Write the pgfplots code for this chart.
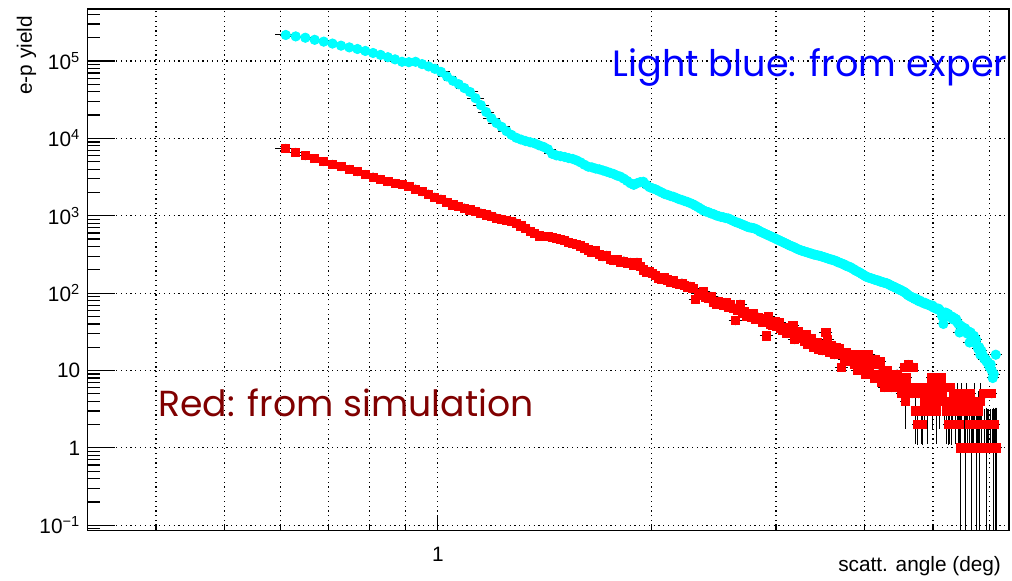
\documentclass[border=0pt]{standalone}
\usepackage{fontspec}
\setmainfont{Liberation Sans}
\newfontfamily\annfont{Poppins}
\usepackage{pgfplots}
\pgfplotsset{compat=1.18}
\usepackage{pgfplotstable}
\definecolor{rootcyan}{RGB}{0,255,255}
\definecolor{rootred}{RGB}{255,0,0}
\definecolor{darkred}{RGB}{128,0,0}
\definecolor{rootblue}{RGB}{0,0,255}

\pgfplotstableread{
x y
0.61 217000
0.63 208000
0.65 200000
0.67 188000
0.69 178000
0.71 168000
0.73 158000
0.75 150000
0.77 143000
0.79 135000
0.81 127000
0.83 120000
0.85 112000
0.87 105000
0.89 97700
0.91 96600
0.93 97700
0.95 91200
0.97 85100
0.99 79400
1.01 72400
1.03 63100
1.05 55600
1.07 50100
1.09 44700
1.11 39800
1.13 33100
1.15 26900
1.17 21900
1.19 18200
1.21 15800
1.23 14100
1.25 12400
1.27 11100
1.29 10200
1.31 9660
1.33 9230
1.35 8910
1.37 8610
1.39 8130
1.41 7760
1.43 7240
1.45 6310
1.47 6030
1.49 5890
1.51 5750
1.53 5560
1.55 5430
1.57 5190
1.59 4900
1.61 4570
1.63 4310
1.65 4220
1.67 4070
1.69 3980
1.71 3850
1.73 3720
1.75 3590
1.77 3470
1.79 3310
1.81 3200
1.83 3020
1.85 2820
1.87 2630
1.89 2510
1.91 2630
1.93 2720
1.95 2750
1.97 2510
1.99 2340
2.01 2260
2.03 2190
2.05 2090
2.07 2000
2.09 1910
2.11 1860
2.13 1800
2.15 1760
2.17 1700
2.19 1640
2.21 1600
2.23 1550
2.25 1510
2.27 1460
2.29 1410
2.31 1350
2.33 1290
2.35 1230
2.37 1170
2.39 1135
2.41 1110
2.43 1070
2.45 1050
2.47 1010
2.49 989
2.51 966
2.53 955
2.55 933
2.57 923
2.59 891
2.61 861
2.63 832
2.65 813
2.67 794
2.69 767
2.71 750
2.73 724
2.75 708
2.77 700
2.79 692
2.81 676
2.83 653
2.85 624
2.87 610
2.89 589
2.91 575
2.93 556
2.95 543
2.97 525
2.99 513
3.01 495
3.03 484
3.05 468
3.07 457
3.09 442
3.11 432
3.13 417
3.15 407
3.17 398
3.19 389
3.21 376
3.23 367
3.25 359
3.27 351
3.29 347
3.31 339
3.33 335
3.35 327
3.37 324
3.39 316
3.41 313
3.43 309
3.45 305
3.47 302
3.49 295
3.51 292
3.53 285
3.55 282
3.57 275
3.59 272
3.61 269
3.63 263
3.65 260
3.67 251
3.69 248
3.71 243
3.73 237
3.75 234
3.77 226
3.79 221
3.81 219
3.83 214
3.85 207
3.87 202
3.89 195
3.91 191
3.93 186
3.95 182
3.97 176
3.99 172
4.01 166
4.03 162
4.05 160
4.07 157
4.09 155
4.11 153
4.13 150
4.15 148
4.17 146
4.19 145
4.21 141
4.23 140
4.25 138
4.27 136
4.29 135
4.31 133
4.33 130
4.35 127
4.37 124
4.39 122
4.41 120
4.43 117
4.45 115
4.47 112
4.49 111
4.51 108
4.53 106
4.55 104
4.57 101
4.59 98
4.61 94
4.63 92
4.65 90
4.67 88
4.69 87
4.71 84
4.73 85
4.75 82
4.77 79
4.79 80
4.81 77
4.83 76
4.85 74
4.87 75
4.89 72
4.91 72
4.93 71
4.95 69
4.97 68
4.99 69
5.01 65
5.03 65
5.05 63
5.07 62
5.09 63
5.11 60
5.13 58
5.15 50
5.17 40
5.19 55
5.21 56
5.23 52
5.25 54
5.27 51
5.29 49
5.31 50
5.33 46
5.35 48
5.37 45
5.39 46
5.41 42
5.43 40
5.45 31
5.47 38
5.49 35
5.51 36
5.53 33
5.55 35
5.57 32
5.59 30
5.61 32
5.63 23
5.65 31
5.67 28
5.69 26
5.71 28
5.73 24
5.75 25
5.77 21
5.79 19
5.81 20
5.83 16
5.85 18
5.87 16
5.89 15
5.91 14
5.93 14
5.95 13
5.97 13
5.99 12
6.01 11
6.03 12
6.05 10
6.07 8
6.09 9
6.13 16
}\cyandata

\pgfplotstableread{
x y
0.61 7450
0.63 6610
0.65 5960
0.67 5495
0.69 5012
0.71 4624
0.73 4305
0.75 3981
0.77 3715
0.79 3428
0.81 3162
0.83 2951
0.85 2754
0.87 2630
0.89 2541
0.91 2399
0.93 2213
0.95 2042
0.97 1905
0.99 1738
1.01 1641
1.03 1496
1.05 1380
1.07 1318
1.09 1259
1.11 1189
1.13 1135
1.15 1084
1.17 1023
1.19 989
1.21 933
1.23 902
1.25 871
1.27 841
1.29 804
1.31 741
1.33 692
1.35 631
1.37 589
1.39 550
1.41 543
1.43 537
1.45 525
1.47 513
1.49 490
1.51 484
1.53 457
1.55 437
1.57 422
1.59 407
1.61 385
1.63 363
1.65 339
1.67 355
1.69 316
1.71 295
1.73 309
1.75 275
1.77 263
1.79 269
1.81 251
1.83 260
1.85 245
1.87 251
1.89 229
1.91 251
1.93 219
1.95 200
1.97 186
1.99 191
2.01 178
2.03 170
2.05 155
2.07 151
2.09 158
2.11 148
2.13 138
2.15 145
2.17 132
2.19 129
2.21 135
2.23 126
2.25 120
2.27 123
2.29 115
2.31 83
2.33 100
2.35 95
2.37 105
2.39 89
2.41 85
2.43 91
2.45 76
2.47 72
2.49 79
2.51 74
2.53 69
2.55 76
2.57 66
2.59 71
2.61 63
2.63 44
2.65 60
2.67 72
2.69 55
2.71 58
2.73 50
2.75 52
2.77 48
2.79 54
2.81 46
2.83 49
2.85 47
2.87 42
2.89 44
2.91 28
2.93 50
2.95 40
2.97 38
2.99 43
3.01 37
3.03 42
3.05 35
3.07 33
3.09 36
3.11 30
3.13 35
3.15 32
3.17 38
3.19 25
3.21 29
3.23 32
3.25 26
3.27 28
3.29 24
3.31 29
3.33 22
3.35 25
3.37 26
3.39 20
3.41 21
3.43 23
3.45 19
3.47 22
3.49 18
3.51 20
3.53 31
3.55 25
3.57 17
3.59 21
3.61 18
3.63 16
3.65 20
3.67 17
3.69 19
3.71 11
3.73 16
3.75 14
3.77 17
3.79 15
3.81 13
3.83 16
3.85 14
3.87 12
3.89 15
3.91 10
3.93 14
3.95 16
3.97 11
3.99 10
4.01 9
4.03 14
4.05 16
4.07 11
4.09 9
4.11 13
4.13 8
4.15 14
4.17 12
4.19 9
4.21 13
4.23 7
4.25 10
4.27 6
4.29 8
4.31 10
4.33 8
4.35 9
4.37 6
4.39 7
4.41 8
4.43 6
4.45 9
4.47 7
4.49 8
}\redmain

\pgfplotstableread{
x y ep em
4.51 5 0 0
4.53 6 0 0
4.55 11 0 0
4.57 4 2 2
4.59 8 0 0
4.61 12 0 0
4.63 5 0 0
4.65 6 0 0
4.67 5 0 0
4.69 11 0 0
4.71 6 0 0
4.73 3 1.73 1.73
4.75 2 0.75 0.75
4.77 5 0 0
4.79 6 0 0
4.81 3 1.73 1.73
4.83 2 0.75 0.75
4.85 5 0 0
4.87 4 2 2
4.89 6 0 0
4.91 3 1.73 1.73
4.93 5 0 0
4.95 6 0 0
4.97 8 0 0
4.99 4 2 2
5.01 5 0 0
5.03 6 0 0
5.05 3 1.73 1.73
5.07 5 0 0
5.09 6 0 0
5.11 4 2 2
5.13 8 0 0
5.15 5 0 0
5.17 6 0 0
5.19 4 2 2
5.21 6 0 0
5.23 3 1.73 1.73
5.25 2 0.75 0.75
5.27 3 1.73 1.73
5.29 6 0 0
5.31 2 0.75 0.75
5.33 4 2 2
5.35 5 0 0
5.37 3 1.73 1.73
5.39 5 0 0
5.41 4 2 2
5.43 3 1.73 1.73
5.45 2 0.75 0.75
5.47 1 1.9 0.999
5.49 4 2 2
5.51 5 0 0
5.53 3 1.73 1.73
5.55 1 1.9 0.999
5.57 4 2 2
5.59 3 1.73 1.73
5.61 5 0 0
5.63 2 0.75 0.75
5.65 5 0 0
5.67 1 1.9 0.999
5.69 3 1.73 1.73
5.71 2 0.75 0.75
5.73 4 2 2
5.75 1 1.9 0.999
5.77 2 0.75 0.75
5.79 3 1.73 1.73
5.81 1 1.9 0.999
5.83 4 2 2
5.85 2 0.75 0.75
5.89 5 0 0
5.91 2 0.75 0.75
5.93 5 0 0
5.95 1 1.9 0.999
5.97 2 0.75 0.75
5.99 2 0.75 0.75
6.03 2 0.75 0.75
6.05 5 0 0
6.07 2 0.75 0.75
6.09 1 1.9 0.999
6.11 2 0.75 0.75
6.13 1 1.9 0.999
6.15 1 1.9 0.999
}\redtail

\begin{document}
\begin{tikzpicture}
\useasboundingbox (-43.65pt,-24.65pt) rectangle (462.35pt,265.35pt);
\begin{axis}[
  at={(0,0)}, anchor=south west,
  scale only axis, width=460.85pt, height=260.85pt,
  xmode=log, ymode=log,
  xmin=0.32, xmax=6.4, ymin=0.085, ymax=4.7e5,
  axis line style={line width=0.7pt},
  tick pos=left, tick align=inside,
  xtick={1}, xticklabels={1},
  minor xtick={0.4,0.5,0.6,0.7,0.8,0.9,2,3,4,5,6},
  ytick={0.1,1,10,100,1000,10000,100000},
  yticklabels={10\textsuperscript{−1},1,10,10\textsuperscript{2},10\textsuperscript{3},10\textsuperscript{4},10\textsuperscript{5}},
  minor ytick={0.09,0.2,0.3,0.4,0.5,0.6,0.7,0.8,0.9,2,3,4,5,6,7,8,9,20,30,40,50,60,70,80,90,200,300,400,500,600,700,800,900,2000,3000,4000,5000,6000,7000,8000,9000,20000,30000,40000,50000,60000,70000,80000,90000,200000,300000,400000},
  major tick length=14pt, minor tick length=6.5pt,
  xtick style={/pgfplots/major tick length=7.5pt,/pgfplots/minor tick length=3.5pt},
  tick style={black, line width=0.6pt},
  xmajorgrids, xminorgrids, ymajorgrids,
  grid style={black, line width=0.6pt, dash pattern=on 0.6pt off 1.8pt},
  minor grid style={black, line width=0.6pt, dash pattern=on 0.6pt off 1.8pt},
  ticklabel style={font=\fontsize{10.4}{12}\selectfont},
  xticklabel style={yshift=-4.5pt},
  xlabel={scatt. angle (deg)}, ylabel={e-p yield},
  label style={font=\fontsize{10.4}{12}\selectfont},
  xlabel style={at={(axis description cs:0.9989,-0.079)}, anchor=base east},
  ylabel style={at={(axis description cs:-0.060,1)}, anchor=base east},
  clip mode=individual,
]
% error bars first (black), markers drawn on top afterwards
\addplot[only marks, mark=none, black,
  error bars/.cd, x dir=both, x fixed=0.01,
  error bar style={black, line width=0.5pt},
  error mark options={black, mark size=2.8pt, line width=0.5pt}]
  table[x=x, y=y] {\cyandata};
\addplot[only marks, mark=none, black,
  error bars/.cd, x dir=both, x fixed=0.01,
  error bar style={black, line width=0.5pt},
  error mark options={black, mark size=2.8pt, line width=0.5pt}]
  table[x=x, y=y] {\redmain};
\addplot[only marks, mark=none, black,
  error bars/.cd, x dir=both, x fixed=0.01, y dir=both, y explicit,
  error bar style={black, line width=0.5pt},
  error mark options={black, mark size=2.2pt, line width=0.5pt}]
  table[x=x, y=y, y error plus=ep, y error minus=em] {\redtail};
\addplot[only marks, mark=*, mark size=2.35pt, color=rootcyan,
  mark options={draw=rootcyan, fill=rootcyan}]
  table[x=x, y=y] {\cyandata};
\addplot[only marks, mark=square*, mark size=2.05pt, color=rootred,
  mark options={draw=rootred, fill=rootred}]
  table[x=x, y=y] {\redmain};
\addplot[only marks, mark=square*, mark size=2.05pt, color=rootred,
  mark options={draw=rootred, fill=rootred}]
  table[x=x, y=y] {\redtail};
\node[anchor=base west, inner sep=0pt, text=darkred, font=\annfont\fontsize{18.1}{22}\selectfont] at (rel axis cs:0.0767,0.218) {Red: from simulation};
\node[anchor=base east, inner sep=0pt, text=rootblue, font=\annfont\fontsize{18.3}{22}\selectfont] at (rel axis cs:0.9989,0.870) {Light blue: from exper};
\end{axis}
\end{tikzpicture}
\end{document}
